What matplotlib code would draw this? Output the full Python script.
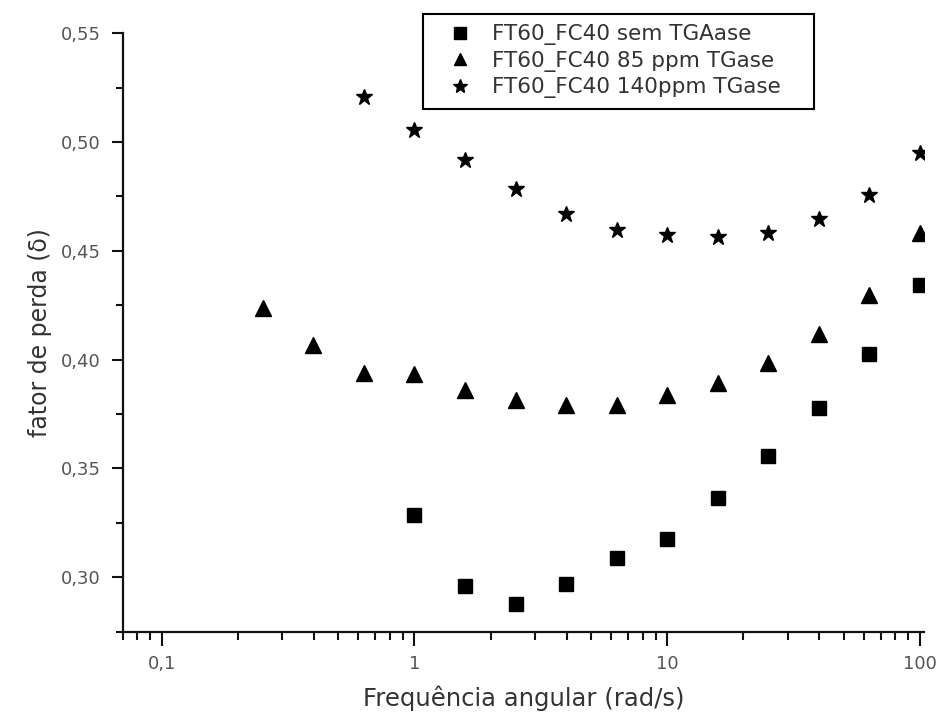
import numpy as np
import matplotlib
matplotlib.use('Agg')
import matplotlib.pyplot as plt
from matplotlib.ticker import FixedLocator, LogLocator, NullFormatter, FuncFormatter

# frequencias (rad/s)
freq = [0.251, 0.398, 0.631, 1.0, 1.585, 2.512, 3.981, 6.31, 10.0,
        15.85, 25.12, 39.81, 63.1, 100.0]

# fator de perda para cada amostra
freq_sem = [1.0, 1.585, 2.512, 3.981, 6.31, 10.0, 15.85, 25.12, 39.81, 63.1, 100.0]
tan_sem = [0.3285, 0.2959, 0.2875, 0.2971, 0.3089, 0.3178, 0.3365, 0.3556,
           0.3778, 0.4027, 0.4344]

freq_85 = freq
tan_85 = [0.4237, 0.4068, 0.3938, 0.3934, 0.3862, 0.3816, 0.3793, 0.3793,
          0.3839, 0.3893, 0.3987, 0.4119, 0.4298, 0.4581]

freq_140 = [0.631, 1.0, 1.585, 2.512, 3.981, 6.31, 10.0, 15.85, 25.12,
            39.81, 63.1, 100.0]
tan_140 = [0.5208, 0.5056, 0.4918, 0.4783, 0.4670, 0.4596, 0.4573, 0.4563,
           0.4584, 0.4647, 0.4757, 0.4949]

labels = ['FT60_FC40 sem TGAase', 'FT60_FC40 85 ppm TGase',
          'FT60_FC40 140ppm TGase']

xticks = [0.1, 1, 10, 100]
xticklabels = ['0,1', '1', '10', '100']
yticks = [0.30, 0.35, 0.40, 0.45, 0.50, 0.55]

plt.rcParams['font.family'] = ['DejaVu Sans']

fig = plt.figure(figsize=(9.36, 7.22), dpi=100)
ax = fig.add_axes([0.1311, 0.1251, 0.8561, 0.8288])

ax.plot(freq_sem, tan_sem, 's', color='black', ms=10, label=labels[0])
ax.plot(freq_85, tan_85, '^', color='black', ms=11, label=labels[1])
ax.plot(freq_140, tan_140, '*', color='black', ms=12, label=labels[2])

ax.set_xscale('log')
ax.set_xlim(0.07, 104)
ax.set_ylim(0.275, 0.55)

ax.xaxis.set_major_locator(FixedLocator(xticks))
ax.set_xticklabels(xticklabels)
ax.xaxis.set_minor_locator(LogLocator(base=10, subs=np.arange(2, 10)))
ax.xaxis.set_minor_formatter(NullFormatter())

ax.yaxis.set_major_locator(FixedLocator(yticks))
ax.yaxis.set_minor_locator(FixedLocator([0.275, 0.325, 0.375, 0.425, 0.475, 0.525]))
ax.yaxis.set_major_formatter(FuncFormatter(lambda v, p: ('%.2f' % v).replace('.', ',')))

for s in ['top', 'right']:
    ax.spines[s].set_visible(False)
for s in ['left', 'bottom']:
    ax.spines[s].set_linewidth(1.6)
    ax.spines[s].set_color('#111111')

ax.tick_params(axis='x', which='major', direction='out', length=10, width=1.5,
               pad=7, labelsize=13, labelcolor='#555555', color='#111111')
ax.tick_params(axis='x', which='minor', direction='out', length=6, width=1.5,
               color='#111111')
ax.tick_params(axis='y', which='major', direction='out', length=8, width=1.5,
               pad=8, labelsize=13, labelcolor='#555555', color='#111111')
ax.tick_params(axis='y', which='minor', direction='out', length=5, width=1.5,
               color='#111111')

ax.set_xlabel('Frequência angular (rad/s)', fontsize=17.5, color='#333333', labelpad=9)
ax.set_ylabel('fator de perda (δ)', fontsize=17, color='#333333', labelpad=6)

leg = ax.legend(loc='upper left', bbox_to_anchor=(0.452, 0.848, 0.418, 0.133),
                bbox_transform=fig.transFigure, mode='expand', borderaxespad=0,
                fontsize=15.5, frameon=True, fancybox=False, framealpha=1,
                edgecolor='black', borderpad=0.5, handlelength=2.4,
                handletextpad=0.3, labelspacing=0.25, numpoints=1,
                markerscale=0.85)
leg.get_frame().set_linewidth(1.5)
for t in leg.get_texts():
    t.set_color('#333333')

fig.savefig('out.png', dpi=100)
